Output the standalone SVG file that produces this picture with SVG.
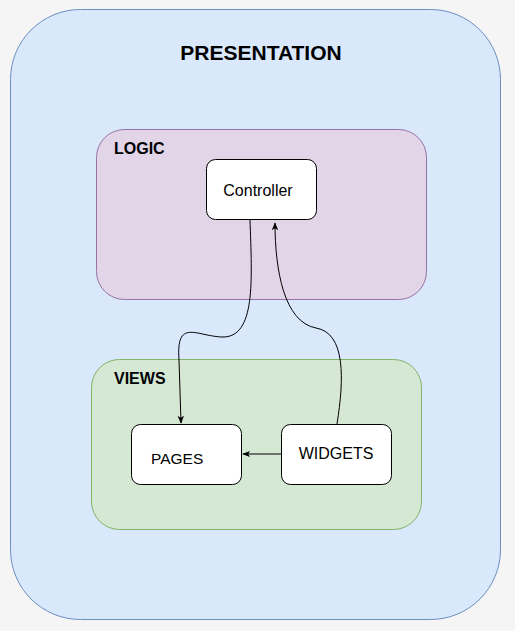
<svg xmlns="http://www.w3.org/2000/svg" width="515" height="631" viewBox="0 0 515 631">
<style>
.lbl{font-family:"Liberation Sans",Arial,sans-serif;fill:#000}
.b{font-weight:bold}
.box{fill:#fff;stroke:#000;stroke-width:1}
.edge{fill:none;stroke:#000;stroke-width:1}
</style>
<defs>
<marker id="arr" viewBox="0 0 10 10" refX="9" refY="5" markerWidth="8" markerHeight="8" markerUnits="userSpaceOnUse" orient="auto">
<path d="M0,1 L10,5 L0,9 L2.5,5 Z" fill="#000"/>
</marker>
</defs>
<rect x="0" y="0" width="515" height="631" fill="#f5f5f5"/>
<g id="presentation">
<rect x="10.5" y="9.5" width="490" height="610" rx="70" ry="70" fill="#dae8fc" stroke="#6c8ebf"/>
<text class="lbl b" x="261" y="60" font-size="21" text-anchor="middle">PRESENTATION</text>
</g>
<g id="logic">
<rect x="96.5" y="129.5" width="330" height="170" rx="28" ry="28" fill="#e1d5e7" stroke="#9673a6"/>
<text class="lbl b" x="114" y="154" font-size="16">LOGIC</text>
</g>
<g id="views">
<rect x="91.5" y="359.5" width="330" height="170" rx="28" ry="28" fill="#d5e8d4" stroke="#82b366"/>
<text class="lbl b" x="114" y="384" font-size="16">VIEWS</text>
</g>
<g id="controller">
<rect class="box" x="206.5" y="159.5" width="110" height="60" rx="9" ry="9"/>
<text class="lbl" x="258" y="196" font-size="16" text-anchor="middle">Controller</text>
</g>
<g id="pages">
<rect class="box" x="131.5" y="424.5" width="110" height="60" rx="9" ry="9"/>
<text class="lbl" x="151" y="464" font-size="15.5">PAGES</text>
</g>
<g id="widgets">
<rect class="box" x="281.5" y="424.5" width="110" height="60" rx="9" ry="9"/>
<text class="lbl" x="336" y="459" font-size="16" text-anchor="middle">WIDGETS</text>
</g>
<g id="connectors">
<path class="edge" d="M250,220 C252,280 256,338 222,337 C196,336 176,318 179,360 L181,423" marker-end="url(#arr)"/>
<path class="edge" d="M337,424 C344,380 346,333 316,328 C284,322 275,270 275,223" marker-end="url(#arr)"/>
<path class="edge" d="M281,454 L243,454" marker-end="url(#arr)"/>
</g>
</svg>
